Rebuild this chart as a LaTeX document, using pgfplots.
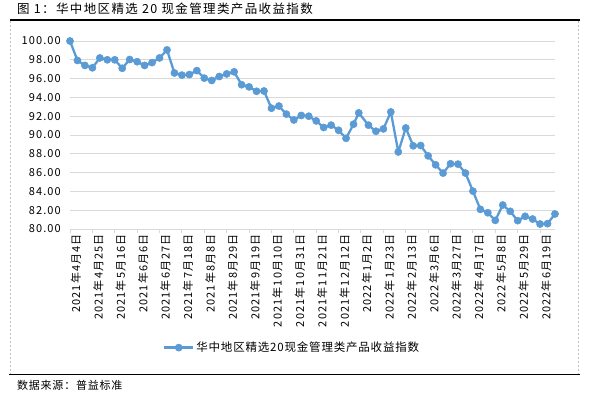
\documentclass[border=0pt]{standalone}
\usepackage{fontspec}
\setmainfont{Noto Sans CJK SC}
\newfontfamily\titlefont[LetterSpace=11]{Noto Sans CJK SC}
\newfontfamily\legfont[LetterSpace=7]{Noto Sans CJK SC}
\newfontfamily\srcfont[LetterSpace=7]{Noto Sans CJK SC}
\newfontfamily\tickfont[LetterSpace=10]{Noto Sans CJK SC}
\usepackage{pgfplots}
\pgfplotsset{compat=1.18}
\definecolor{lineblue}{HTML}{5B9BD5}
\definecolor{gridgray}{HTML}{D9D9D9}
\definecolor{boxgray}{HTML}{BFBFBF}
\begin{document}
\begin{tikzpicture}[x=1pt,y=1pt]
\useasboundingbox (0,0) rectangle (590,397);
% title and frame
\node[anchor=west,inner sep=0pt,font=\titlefont\fontsize{12.5}{14}\selectfont] at (17,388) {图 1：华中地区精选 20 现金管理类产品收益指数};
\draw[black,line width=1.2pt] (10,377) -- (580,377);
\draw[boxgray,line width=0.8pt,dash pattern=on 2pt off 2pt] (10,376) -- (10,23);
\draw[boxgray,line width=0.8pt,dash pattern=on 2pt off 2pt] (578,376) -- (578,23);
\draw[black,line width=1.3pt] (9,22.7) -- (580,22.7);
\node[anchor=west,inner sep=0pt,font=\srcfont\fontsize{11}{13}\selectfont] at (17,12) {数据来源：普益标准};
\begin{axis}[
  at={(70pt,168pt)}, anchor=south west,
  scale only axis, width=485pt, height=188pt,
  xmin=0, xmax=65, ymin=80, ymax=100,
  axis line style={draw=none},
  ytick={80,82,...,100},
  ymajorgrids, grid style={gridgray,line width=1pt},
  ytick style={draw=none},
  xtick={0,3,...,63},
  xticklabels={2021年4月4日,2021年4月25日,2021年5月16日,2021年6月6日,2021年6月27日,2021年7月18日,2021年8月8日,2021年8月29日,2021年9月19日,2021年10月10日,2021年10月31日,2021年11月21日,2021年12月12日,2022年1月2日,2022年1月23日,2022年2月13日,2022年3月6日,2022年3月27日,2022年4月17日,2022年5月8日,2022年5月29日,2022年6月19日},
  xtick pos=lower, tick align=outside,
  xtick style={gridgray,line width=1pt},
  major tick length=4pt,
  xticklabel style={rotate=90,anchor=east,font=\tickfont\fontsize{11}{12}\selectfont,inner sep=1pt,yshift=-6pt},
  yticklabel style={font=\tickfont\fontsize{11}{12}\selectfont,inner sep=1pt,xshift=-4pt},
  /pgf/number format/assume math mode=true,
  yticklabel={\pgfmathprintnumber[fixed,fixed zerofill,precision=2]{\tick}},
  legend style={at={(0.458,-0.631)},anchor=center,draw=none,fill=none,
    font=\legfont\fontsize{11.5}{13}\selectfont,inner sep=0pt},
  legend cell align=left,
  legend image code/.code={%
    \draw[#1,mark=none] (0pt,0pt) -- (29pt,0pt);
    \draw[#1,only marks] plot coordinates {(14.5pt,0pt)};},
]
\addplot[color=lineblue,line width=2.3pt,mark=*,mark size=3.6pt,
  mark options={fill=lineblue,draw=lineblue,line width=0.5pt}] coordinates {
(0,100.00) (1,97.93) (2,97.40) (3,97.15) (4,98.20) (5,98.00) (6,98.00) (7,97.10)
(8,98.03) (9,97.80) (10,97.40) (11,97.70) (12,98.20) (13,99.05) (14,96.60) (15,96.37)
(16,96.43) (17,96.85) (18,96.05) (19,95.80) (20,96.22) (21,96.50) (22,96.72) (23,95.35)
(24,95.12) (25,94.65) (26,94.68) (27,92.85) (28,93.08) (29,92.22) (30,91.60) (31,92.08)
(32,92.00) (33,91.50) (34,90.80) (35,91.05) (36,90.50) (37,89.65) (38,91.15) (38.7,92.35)
(40,91.05) (41,90.40) (42,90.65) (43,92.45) (44,88.20) (45,90.75) (46,88.85) (47,88.88)
(48,87.78) (49,86.83) (50,85.95) (51,86.94) (52,86.90) (53,85.95) (54,84.03) (55,82.09)
(56,81.73) (57,80.92) (58,82.55) (59,81.88) (60,80.89) (61,81.35) (62,81.06) (63,80.53)
(64,80.57) (65,81.60)
};
\addlegendentry{华中地区精选20现金管理类产品收益指数}
\end{axis}
\end{tikzpicture}
\end{document}
